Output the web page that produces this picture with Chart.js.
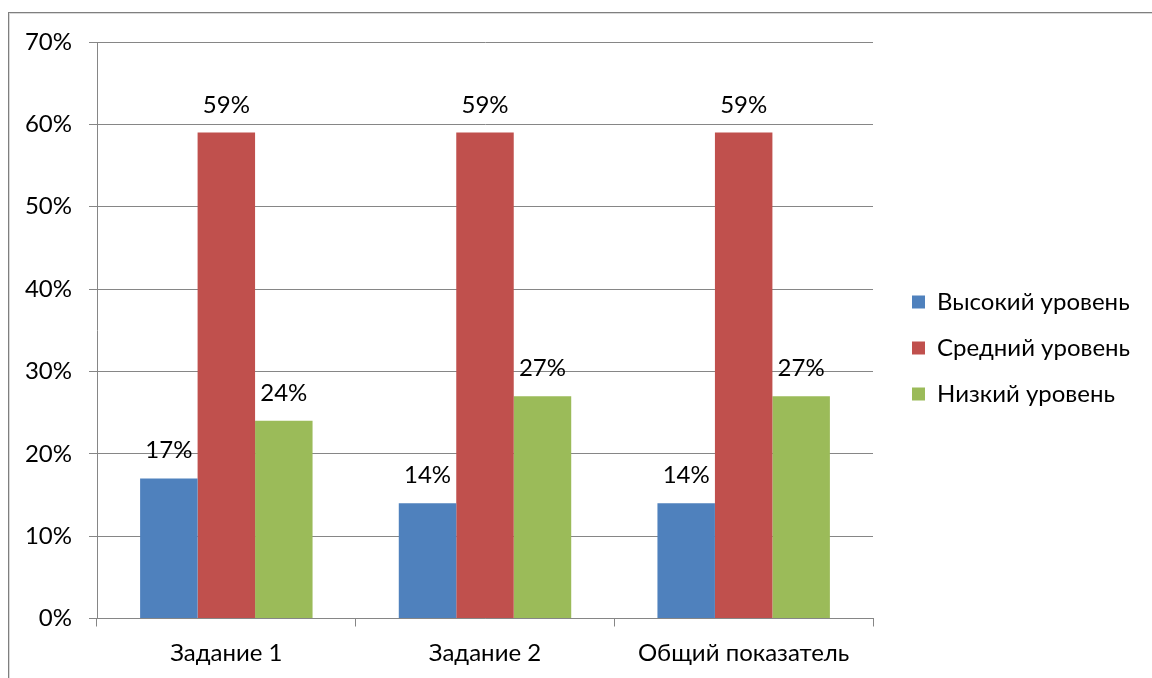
<!DOCTYPE html>
<html>
<head>
<meta charset="utf-8">
<script src="https://cdn.jsdelivr.net/npm/chart.js@4/dist/chart.umd.min.js"></script>
<style>
  html, body { margin: 0; padding: 0; background: #ffffff; }
  #wrap { position: relative; width: 1152px; height: 678px; overflow: hidden; }
  #frameOuter { position: absolute; left: 8px; top: 12px; width: 1200px; height: 700px; border: 1px solid #7f7f7f; box-sizing: border-box; }
  #frameInner { position: absolute; left: 9px; top: 13px; width: 1200px; height: 700px; border: 1px solid #d9d9d9; box-sizing: border-box; }
  canvas { position: absolute; left: 0; top: 0; }
</style>
</head>
<body>
<div id="wrap">
  <div id="frameOuter"></div>
  <div id="frameInner"></div>
  <canvas id="c" width="1152" height="678"></canvas>
</div>
<script>
const categories = ["Задание 1", "Задание 2", "Общий показатель"];
const seriesNames = ["Высокий уровень", "Средний уровень", "Низкий уровень"];
const highLevel = [17, 14, 14];
const midLevel = [59, 59, 59];
const lowLevel = [24, 27, 27];
const yTicks = [0, 10, 20, 30, 40, 50, 60, 70];

const FONT = "Lato";
const FS = 24;
const GRID = "#868686";

const valueLabels = {
  id: "valueLabels",
  afterDatasetsDraw(chart) {
    const ctx = chart.ctx;
    ctx.save();
    ctx.font = FS + "px " + FONT;
    ctx.fillStyle = "#000000";
    ctx.textAlign = "center";
    ctx.textBaseline = "alphabetic";
    chart.data.datasets.forEach((ds, i) => {
      const meta = chart.getDatasetMeta(i);
      meta.data.forEach((bar, j) => {
        ctx.fillText(ds.data[j] + "%", bar.x, bar.y - 20);
      });
    });
    ctx.restore();
  }
};

new Chart(document.getElementById("c"), {
  type: "bar",
  data: {
    labels: categories,
    datasets: [
      { label: seriesNames[0], data: highLevel, backgroundColor: "#4F81BD" },
      { label: seriesNames[1], data: midLevel, backgroundColor: "#C0504D" },
      { label: seriesNames[2], data: lowLevel, backgroundColor: "#9BBB59" }
    ]
  },
  options: {
    responsive: false,
    animation: false,
    devicePixelRatio: 1,
    categoryPercentage: 3 / 4.5,
    barPercentage: 1.0,
    layout: { padding: { left: 0, top: 28, right: 22, bottom: 10 } },
    plugins: {
      tooltip: { enabled: false },
      legend: {
        position: "right",
        align: "center",
        maxWidth: 240,
        labels: {
          font: { family: FONT, size: FS },
          color: "#000000",
          boxWidth: 13,
          boxHeight: 13,
          padding: 22
        }
      }
    },
    scales: {
      x: {
        grid: { display: true, offset: true, drawOnChartArea: false, drawTicks: true, tickLength: 8, color: GRID, lineWidth: 1 },
        border: { display: true, color: GRID, width: 1 },
        ticks: { font: { family: FONT, size: FS }, color: "#000000", padding: 12, maxRotation: 0 },
        afterFit(s) { s.height = 49.5; }
      },
      xTop: {
        type: "linear",
        position: "top",
        display: true,
        grid: { display: false },
        border: { display: false },
        ticks: { display: false },
        afterFit(s) { s.height = 14; }
      },
      y: {
        min: 0,
        max: 70,
        afterBuildTicks(s) { s.ticks = yTicks.map(v => ({ value: v })); },
        grid: { display: true, drawOnChartArea: true, drawTicks: true, tickLength: 8, color: GRID, lineWidth: 1 },
        border: { display: true, color: GRID, width: 1 },
        ticks: { font: { family: FONT, size: FS }, color: "#000000", padding: 17, callback: v => v + "%" },
        afterFit(s) { s.width = 97; }
      },
      gap: {
        type: "linear",
        position: "right",
        display: true,
        grid: { display: false },
        border: { display: false },
        ticks: { display: false },
        afterFit(s) { s.width = 17; }
      }
    }
  },
  plugins: [valueLabels]
});
</script>
</body>
</html>
